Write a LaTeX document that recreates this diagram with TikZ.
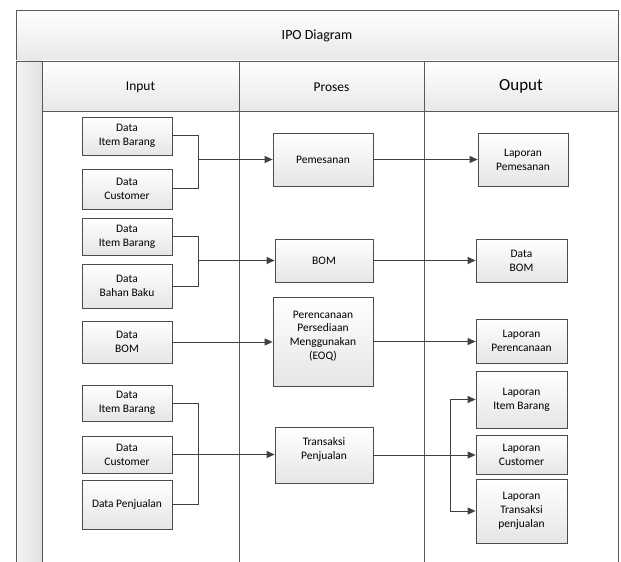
\documentclass[tikz,border=0pt]{standalone}
\usepackage{fontspec}
\setmainfont{Carlito}
\usetikzlibrary{arrows.meta,shadows}
\begin{document}
\begin{tikzpicture}[x=1bp,y=-1bp,
  frame/.style={draw=black!65,line width=0.9bp},
  hdr/.style={frame,top color=white,bottom color=black!9},
  box/.style={draw=black!70,line width=0.8bp,top color=white,bottom color=black!10,
    align=center,inner sep=1bp,font=\fontsize{11.5}{13.8}\selectfont,
    drop shadow={shadow xshift=1bp,shadow yshift=-1bp,opacity=0.25,fill=black!40}},
  conn/.style={draw=black!75,line width=1bp},
  arr/.style={conn,-{Triangle[length=8bp,width=7bp]}}
]
\useasboundingbox (0,0) rectangle (621,562);
\fill[white] (0,0) rectangle (621,562);
% frame
\path[hdr] (16,10) rectangle (618,61);
\path[frame,left color=black!4,right color=black!12] (16,61) rectangle (42,562);
\path[hdr] (42,61) rectangle (239,111);
\path[hdr] (239,61) rectangle (424,111);
\path[hdr] (424,61) rectangle (618,111);
\draw[frame] (42,111) -- (42,562);
\draw[frame] (239,111) -- (239,562);
\draw[frame] (424,111) -- (424,562);
\draw[frame] (618,111) -- (618,562);
\draw[frame] (16,61) -- (16,562);
\node[font=\fontsize{14}{16}\selectfont] (title) at (317,36) {IPO Diagram};
\node[font=\fontsize{13.5}{16}\selectfont] (hin) at (140.5,87) {Input};
\node[font=\fontsize{13.5}{16}\selectfont] (hpr) at (331.5,87) {Proses};
\node[font=\fontsize{17}{20}\selectfont] (hout) at (521,86) {Ouput};
% input boxes
\node[box,minimum width=90bp,minimum height=38bp] (i1) at (127,136) {Data\\Item Barang};
\node[box,minimum width=90bp,minimum height=40bp] (i2) at (127,189) {Data\\Customer};
\node[box,minimum width=90bp,minimum height=37bp] (i3) at (127,236.5) {Data\\Item Barang};
\node[box,minimum width=90bp,minimum height=44bp] (i4) at (127,286) {Data\\Bahan Baku};
\node[box,minimum width=90bp,minimum height=42bp] (i5) at (127,342) {Data\\BOM};
\node[box,minimum width=90bp,minimum height=36bp] (i6) at (127,403) {Data\\Item Barang};
\node[box,minimum width=90bp,minimum height=37bp] (i7) at (127,454.5) {Data\\Customer};
\node[box,minimum width=90bp,minimum height=49bp] (i8) at (127,504.5) {Data Penjualan};
% process boxes
\node[box,minimum width=100bp,minimum height=53bp] (p1) at (323,159.5) {Pemesanan};
\node[box,minimum width=98bp,minimum height=43bp] (p2) at (324,260.5) {BOM};
\node[box,minimum width=100bp,minimum height=89bp] (p3) at (323,341.5) {Perencanaan\\Persediaan\\Menggunakan\\(EOQ)\\[-1bp]};
\node[box,minimum width=98bp,minimum height=56bp] (p4) at (324,455) {Transaksi\\Penjualan\\[-1bp]};
% output boxes
\node[box,minimum width=90bp,minimum height=53bp] (o1) at (523,159.5) {Laporan\\Pemesanan};
\node[box,minimum width=91bp,minimum height=43bp] (o2) at (521.5,260.5) {Data\\BOM};
\node[box,minimum width=91bp,minimum height=44bp] (o3) at (521.5,341) {Laporan\\Perencanaan};
\node[box,minimum width=91bp,minimum height=57bp] (o4) at (521.5,399.5) {Laporan\\Item Barang};
\node[box,minimum width=91bp,minimum height=39bp] (o5) at (521.5,454.5) {Laporan\\Customer};
\node[box,minimum width=91bp,minimum height=64bp] (o6) at (521.5,511) {Laporan\\Transaksi\\penjualan};
% junctions
\coordinate (j1) at (198,159.5);
\coordinate (j2) at (198,260.5);
\coordinate (j3) at (198,455);
\coordinate (j4) at (450,455);
% connectors
\draw[conn] (i1.east) -| (j1);
\draw[conn] (i2.east) -| (j1);
\draw[arr] (j1) -- (p1.west);
\draw[conn] (i3.east) -| (j2);
\draw[conn] (i4.east) -| (j2);
\draw[arr] (j2) -- (p2.west);
\draw[arr] (i5.east) -- (i5.east -| p3.west);
\draw[conn] (i6.east) -| (j3);
\draw[conn] (i8.east) -| (j3);
\draw[arr] (i7.east) -- (i7.east -| p4.west);
\draw[arr] (p1.east) -- (o1.west);
\draw[arr] (p2.east) -- (o2.west);
\draw[arr] (p3.east) -- (p3.east -| o3.west);
\draw[arr] (p4.east) -- (p4.east -| o5.west);
\draw[arr] (j4) |- (o4.west);
\draw[arr] (j4) |- (o6.west);
\end{tikzpicture}
\end{document}
